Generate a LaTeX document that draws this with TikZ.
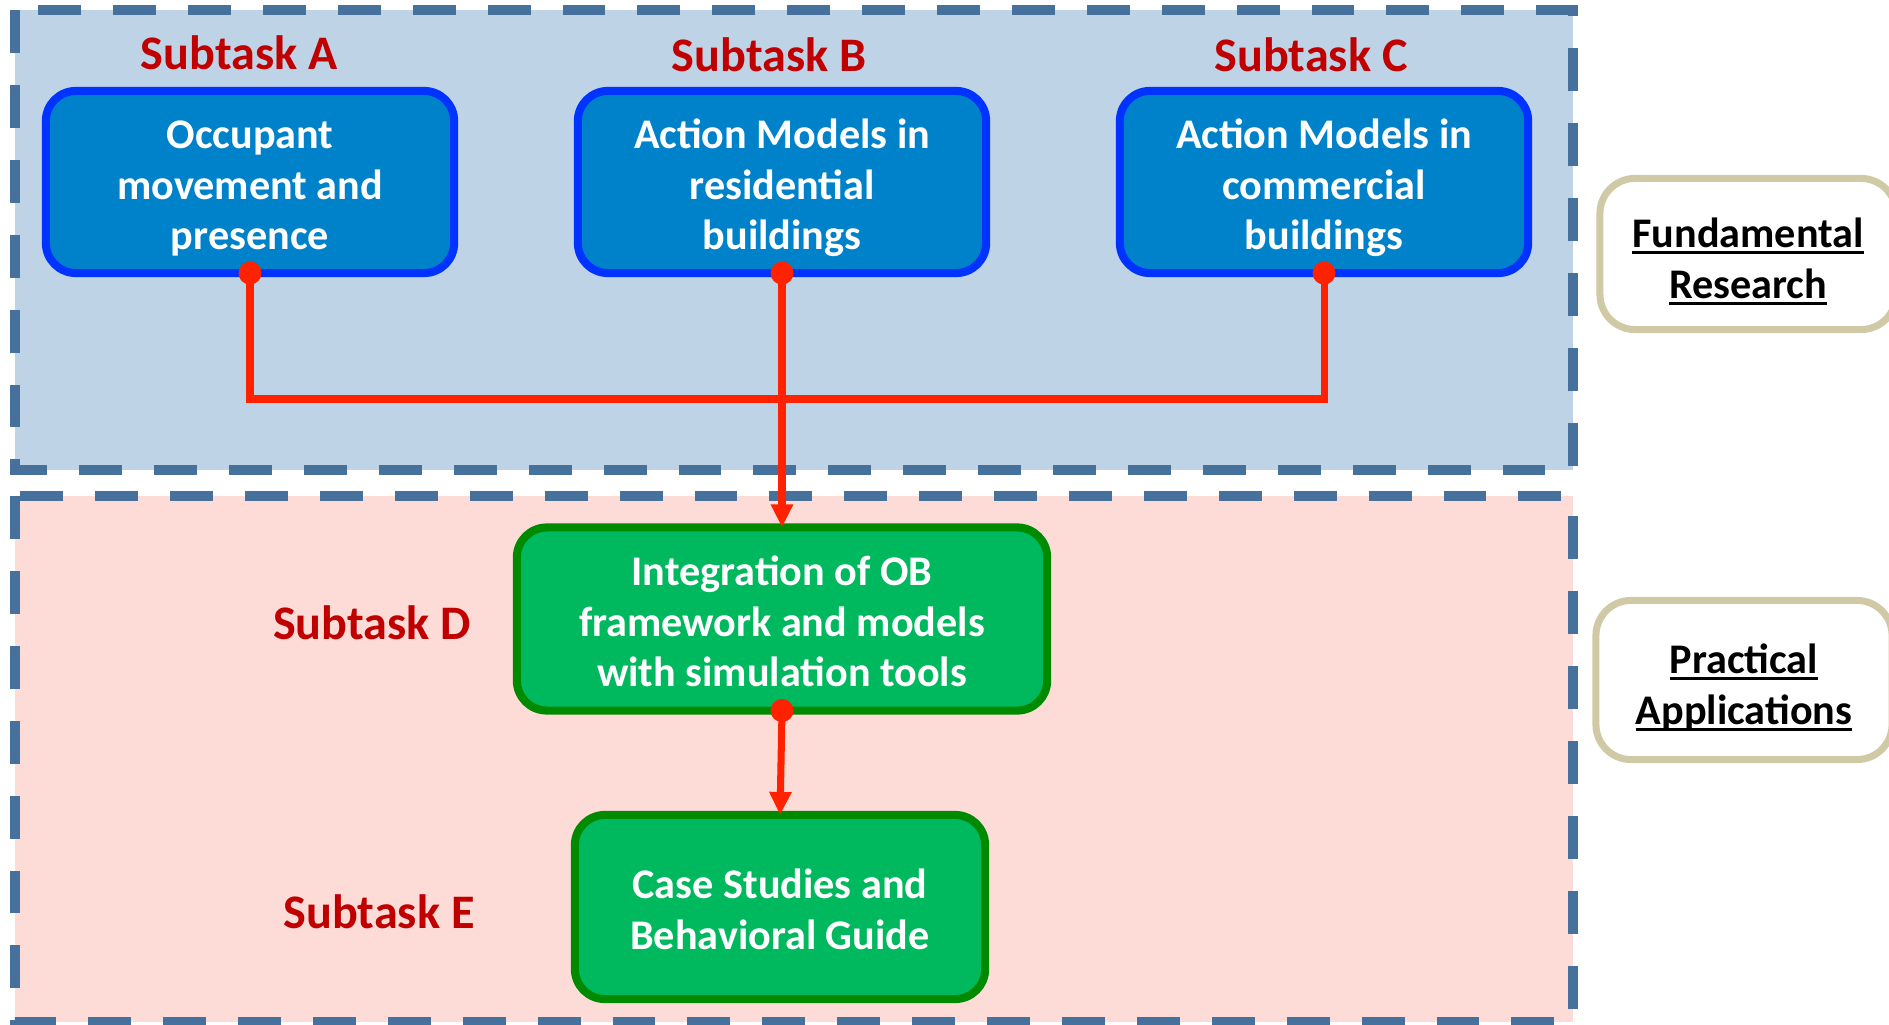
\documentclass[tikz,border=0pt]{standalone}
\usepackage{fontspec}
\setmainfont{Carlito}
\usetikzlibrary{arrows.meta}

\definecolor{zonetop}{RGB}{190,211,230}
\definecolor{zonebot}{RGB}{253,220,215}
\definecolor{zoneline}{RGB}{71,113,157}
\definecolor{bluefill}{RGB}{0,130,202}
\definecolor{blueline}{RGB}{0,51,255}
\definecolor{greenfill}{RGB}{0,184,94}
\definecolor{greenline}{RGB}{0,138,0}
\definecolor{linkred}{RGB}{255,34,0}
\definecolor{labelred}{RGB}{192,0,0}
\definecolor{tanline}{RGB}{208,201,165}

% struts for the first line of a box text
\newcommand{\tstrut}{\rule{0pt}{12.5pt}}
\newcommand{\pstrut}{\rule{0pt}{13.5pt}}
% heavier underline, close to the baseline
\newcommand{\undl}[1]{\setbox0\hbox{#1}\rlap{\rule[-1.9pt]{\wd0}{0.95pt}}\box0}

\tikzset{
  zone/.style={draw=zoneline, line width=2.85pt, dash pattern=on 12.2pt off 9.1pt},
  boxtext/.style={align=center, font=\bfseries\fontsize{12}{14.4}\selectfont,
    execute at end node={\rule[-2.7pt]{0pt}{0pt}}},
  task/.style={boxtext, rounded corners=0.3cm, line width=2.3pt, text=white,
    inner sep=0pt, outer sep=0pt, minimum width=4.08cm, minimum height=1.82cm},
  research/.style={task, draw=blueline, fill=bluefill},
  practice/.style={task, draw=greenline, fill=greenfill},
  tasklabel/.style={text=labelred, font=\bfseries\fontsize{13.7}{16}\selectfont},
  phase/.style={boxtext, draw=tanline, fill=white, line width=2pt,
    rounded corners=0.35cm, minimum width=2.96cm},
  link/.style={draw=linkred, line width=2pt},
  dot/.style={fill=linkred}
}

\begin{document}
\begin{tikzpicture}[x=0.01cm, y=-0.01cm]
  \useasboundingbox (0,0) rectangle (1889,1025);
  \clip (0,0) rectangle (1889,1025);

  % the two zones
  \fill[zonetop] (15,10) rectangle (1573,470);
  \draw[zone] (15,10) rectangle (1573,470);
  \fill[zonebot] (15,496) rectangle (1573,1022);
  \draw[zone] (15,496) rectangle (1573,1022);

  % subtasks
  \node[research] (a) at (250,182) {\tstrut Occupant\\movement and\\presence};
  \node[research] (b) at (782,182) {\tstrut Action Models in\\residential\\buildings};
  \node[research] (c) at (1324,182) {\tstrut Action Models in\\commercial\\buildings};
  \node[practice, minimum width=5.3cm, minimum height=1.83cm] (d) at (782,619)
    {\tstrut Integration of OB\\framework and models\\with simulation tools};
  \node[practice, minimum width=4.1cm, minimum height=1.84cm] (e) at (780,907)
    {\tstrut Case Studies and\\Behavioral Guide};

  \node[tasklabel] (la) at (239,53) {Subtask A};
  \node[tasklabel] (lb) at (769,55) {Subtask B};
  \node[tasklabel] (lc) at (1311,55) {Subtask C};
  \node[tasklabel] (ld) at (372,623) {Subtask D};
  \node[tasklabel] (le) at (379,912) {Subtask E};

  % phases
  \node[phase, minimum height=1.51cm] (fund) at (1748,254)
    {\pstrut\undl{Fundamental}\\\undl{Research}};
  \node[phase, minimum height=1.59cm] (prac) at (1744,680)
    {\pstrut\undl{Practical}\\\undl{Applications}};

  % connectors
  \coordinate (join) at (782,399);
  \draw[link] (a.south) |- (join) -| (c.south);
  \draw[link, -{Triangle[width=0.21cm, length=0.23cm]}] (b.south) -- (d.north);
  \draw[link, -{Triangle[width=0.21cm, length=0.23cm]}] (d.south) -- (e.north);
  \foreach \n in {a,b,c,d}
    \fill[dot] (\n.south) circle (0.115cm);
\end{tikzpicture}
\end{document}
